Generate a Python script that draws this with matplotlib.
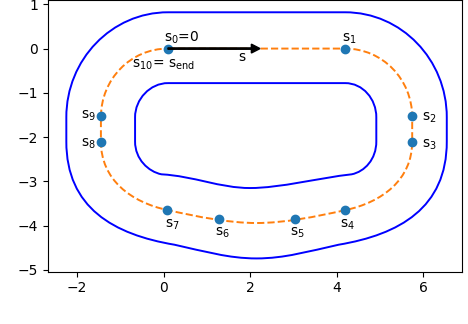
import matplotlib.pyplot as plt
from matplotlib.path import Path
from matplotlib.patches import PathPatch

# sample points along the track (s0 .. s9)
s_x = [0.1, 4.2, 5.75, 5.75, 4.2, 3.04, 1.27, 0.09, -1.45, -1.45]
s_y = [0.0, 0.0, -1.53, -2.12, -3.65, -3.85, -3.84, -3.65, -2.12, -1.53]

# label text and where it goes (x, y, ha, va)
labels = ['s$_0$=0', 's$_1$', 's$_2$', 's$_3$', 's$_4$', 's$_5$', 's$_6$', 's$_7$',
          's$_8$', 's$_9$', 's$_{10}$= s$_\\mathrm{end}$']
label_x = [0.0, 4.12, 5.97, 5.97, 4.26, 3.1, 1.36, 0.2, -1.56, -1.56, 0.0]
label_y = [0.05, 0.06, -1.57, -2.17, -3.82, -4.0, -4.0, -3.82, -2.15, -1.51, -0.2]
label_ha = ['left', 'left', 'left', 'left', 'center', 'center', 'center', 'center',
            'right', 'right', 'center']
label_va = ['bottom', 'bottom', 'center', 'center', 'top', 'top', 'top', 'top',
            'center', 'center', 'top']

# track curves as bezier control points (M, L, C4 ...)
codes = [Path.MOVETO, Path.LINETO,
         Path.CURVE4, Path.CURVE4, Path.CURVE4, Path.LINETO,
         Path.CURVE4, Path.CURVE4, Path.CURVE4,
         Path.CURVE4, Path.CURVE4, Path.CURVE4,
         Path.CURVE4, Path.CURVE4, Path.CURVE4,
         Path.CURVE4, Path.CURVE4, Path.CURVE4, Path.LINETO,
         Path.CURVE4, Path.CURVE4, Path.CURVE4]

center_pts = [(0.1, 0), (4.2, 0),
              (5.06, 0), (5.75, -0.69), (5.75, -1.55), (5.75, -2.1),
              (5.75, -2.96), (5.06, -3.47), (4.2, -3.65),
              (3.5, -3.8), (2.8, -3.94), (2.15, -3.94),
              (1.5, -3.94), (0.8, -3.8), (0.1, -3.65),
              (-0.76, -3.47), (-1.45, -2.96), (-1.45, -2.1), (-1.45, -1.55),
              (-1.45, -0.69), (-0.76, 0), (0.1, 0)]

outer_pts = [(0.1, 0.82), (4.2, 0.82),
             (5.5, 0.82), (6.55, -0.25), (6.55, -1.55), (6.55, -2.1),
             (6.55, -3.6), (5.45, -4.2), (4.05, -4.43),
             (3.35, -4.58), (2.8, -4.74), (2.15, -4.74),
             (1.5, -4.74), (0.95, -4.58), (0.25, -4.43),
             (-1.15, -4.2), (-2.25, -3.6), (-2.25, -2.1), (-2.25, -1.55),
             (-2.25, -0.25), (-1.2, 0.82), (0.1, 0.82)]

inner_pts = [(0.1, -0.78), (4.2, -0.78),
             (4.61, -0.78), (4.92, -1.14), (4.92, -1.55), (4.92, -2.1),
             (4.92, -2.5), (4.65, -2.78), (4.35, -2.84),
             (3.6, -2.92), (2.7, -3.15), (2.0, -3.15),
             (1.3, -3.15), (0.7, -2.88), (-0.05, -2.84),
             (-0.35, -2.78), (-0.66, -2.5), (-0.66, -2.1), (-0.66, -1.55),
             (-0.66, -1.14), (-0.31, -0.78), (0.1, -0.78)]

fig = plt.figure(figsize=(4.68, 3.24), dpi=100)
ax = fig.add_axes([0.102, 0.1614, 0.885, 0.8376])

ax.add_patch(PathPatch(Path(outer_pts, codes), fill=False, color='blue', lw=1.4))
ax.add_patch(PathPatch(Path(inner_pts, codes), fill=False, color='blue', lw=1.4))
ax.add_patch(PathPatch(Path(center_pts, codes), fill=False, color='#ff7f0e', lw=1.4, ls='--'))

ax.scatter(s_x, s_y, color='#1f77b4', s=36, zorder=3)
ax.arrow(0.1, 0, 2.13, 0, width=0.03, head_width=0.2, head_length=0.2,
         length_includes_head=True, color='k', zorder=4)
ax.text(1.82, -0.2, 's', ha='center', va='center', fontsize=10)

for t, x, y, ha, va in zip(labels, label_x, label_y, label_ha, label_va):
    ax.text(x, y, t, ha=ha, va=va, fontsize=10)

ax.set_xlim(-2.68, 6.9)
ax.set_ylim(-5.04, 1.09)
ax.set_xticks([-2, 0, 2, 4, 6])
ax.set_yticks([1, 0, -1, -2, -3, -4, -5])

fig.savefig('out.png', dpi=100)
